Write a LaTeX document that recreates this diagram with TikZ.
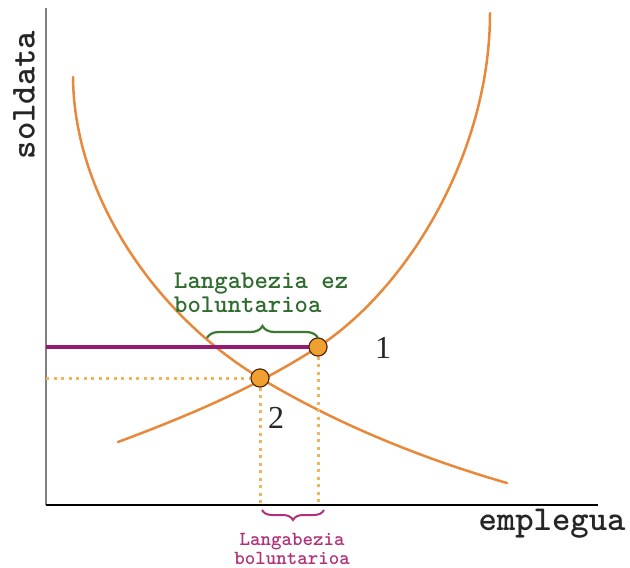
\documentclass[tikz,border=0pt]{standalone}
\usepackage{fontspec}
\setmainfont{Liberation Serif}
\usetikzlibrary{decorations.pathreplacing}
\definecolor{curveorange}{HTML}{E8883A}
\definecolor{dotorange}{HTML}{F0A030}
\definecolor{wagepurple}{HTML}{951A74}
\definecolor{bracegreen}{HTML}{3A7A30}
\definecolor{textgreen}{HTML}{2E6B2E}
\definecolor{labmagenta}{HTML}{B0307A}
\tikzset{
  curve/.style={curveorange, line width=2.5pt, line cap=round},
  guide/.style={dotorange!80!white, line width=3pt, dash pattern=on 3pt off 4.5pt},
  eqpoint/.style={circle, draw=black!70!orange, fill=dotorange, line width=1pt, minimum size=18pt, inner sep=0pt},
  axislab/.style={font=\ttfamily\bfseries\fontsize{35}{36}\selectfont, text=black!85},
  numlab/.style={font=\fontsize{32}{34}\selectfont, text=black!85},
}
\begin{document}
\begin{tikzpicture}[x=1pt,y=-1pt]
\useasboundingbox (0,0) rectangle (630,568);
% axes
\coordinate (o) at (46,505);
\coordinate (ytop) at (46,8);
\coordinate (xend) at (598,505);
\draw[black!50, line width=2.5pt] (o) -- (ytop);
\draw[black, line width=2pt] (o) -- (xend);
\node[axislab, rotate=90] (ylab) at (24,95) {soldata};
\node[axislab] (xlab) at (552,524) {emplegua};
% key points
\coordinate (q1) at (318,347);
\coordinate (q2) at (260,378);
\coordinate (dtop) at (73,77);
\coordinate (dend) at (507,483);
\coordinate (sstart) at (118,442);
\coordinate (stop) at (490,13);
% demand curve
\draw[curve] (dtop) .. controls (74,200) and (160,318) .. (q2)
                    .. controls (340,426) and (427,460) .. (dend);
% supply curve
\draw[curve] (sstart) .. controls (185,417) and (255,388) .. (q1)
                      .. controls (408,288) and (490,153) .. (stop);
% equilibrium points
\node[eqpoint] (p1) at (q1) {};
\node[eqpoint] (p2) at (q2) {};
\coordinate (w1) at (46,347);
\coordinate (w2) at (46,378);
\coordinate (e1) at (318,505);
\coordinate (e2) at (260,505);
% guides
\draw[guide] (w2) -- (p2.west);
\draw[guide] (p2.south) -- (e2);
\draw[guide] (p1.south) -- (e1);
\draw[wagepurple, line width=4pt] (w1) -- (p1.west);
\node[eqpoint] at (p1) {};
\node[eqpoint] at (p2) {};
\node[numlab] (n1) at (383,348) {1};
\node[numlab] (n2) at (276,418) {2};
% green brace
\coordinate (gb1) at (207,338);
\coordinate (gb2) at (318,338);
\draw[bracegreen, line width=2.2pt, decorate, decoration={brace, amplitude=12pt}] (gb1) -- (gb2);
\node[anchor=north west, align=left, text=textgreen, font=\ttfamily\bfseries\fontsize{25.5}{24}\selectfont, inner sep=0pt] (glab) at (174,273) {Langabezia ez\\boluntarioa};
% magenta brace
\coordinate (mb1) at (324,510);
\coordinate (mb2) at (262,510);
\draw[labmagenta, line width=2pt, decorate, decoration={brace, amplitude=10pt}] (mb1) -- (mb2);
\node[align=center, text=labmagenta, font=\ttfamily\bfseries\fontsize{20}{19}\selectfont, inner sep=0pt] (mlab) at (292,549) {Langabezia\\boluntarioa};
\end{tikzpicture}
\end{document}
